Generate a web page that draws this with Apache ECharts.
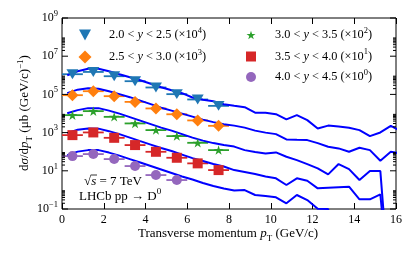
<!DOCTYPE html>
<html><head><meta charset="utf-8">
<script src="https://cdn.jsdelivr.net/npm/echarts@6/dist/echarts.min.js"></script>
<style>html,body{margin:0;padding:0;background:#fff}#c{width:416px;height:257px}</style>
</head><body><div id="c"></div>
<script>
// ---- data ----
const binCenters = [0.5, 1.5, 2.5, 3.5, 4.5, 5.5, 6.5, 7.5];
const binHalfWidth = 0.5;
const rapLow  = ['2.0', '2.5', '3.0', '3.5', '4.0'];
const rapHigh = ['2.5', '3.0', '3.5', '4.0', '4.5'];
const scaleExp = ['4', '3', '2', '1', '0'];
const y20_25 = [1.14e6, 1.50e6, 8.95e5, 4.91e5, 2.30e5, 1.03e5, 5.42e4, 2.51e4];
const y25_30 = [9.10e4, 1.47e5, 8.07e4, 4.06e4, 1.84e4, 9.10e3, 4.34e3, 2.26e3];
const y30_35 = [8.20e3, 1.33e4, 6.68e3, 3.02e3, 1.35e3, 6.55e2, 2.92e2, 1.21e2];
const y35_40 = [7.38e2, 1.02e3, 5.33e2, 2.22e2, 98.9, 48.1, 24.5, 10.9];
const y40_45 = [58.9, 75.0, 41.1, 17.7, 5.98, 3.28];

const theoryX = [0.25,0.75,1.25,1.75,2.25,2.75,3.25,3.75,4.25,4.75,5.25,5.75,6.25,6.75,7.25,7.75,
  8.25,8.75,9.25,9.75,10.25,10.75,11.25,11.75,12.25,12.75,13.25,13.75,14.25,14.75,15.25,15.75,16.25];
const th20_25 = [1.01e6,1.64e6,2.21e6,2.21e6,1.64e6,1.14e6,7.94e5,5.54e5,3.63e5,2.38e5,1.66e5,1.16e5,
  6.90e4,5.30e4,4.42e4,3.08e4,2.57e4,2.15e4,1.11e4,1.08e4,9.25e3,4.89e3,8.20e3,4.49e3,1.65e3,2.32e3,
  2.06e3,1.78e3,1.35e3,6.55e2,1.02e3,2.26e3,1.19e3];
const th25_30 = [1.16e5,1.77e5,2.11e5,1.99e5,1.47e5,1.03e5,7.16e4,4.70e4,3.08e4,2.02e4,1.41e4,9.82e3,
  6.84e3,4.77e3,3.53e3,2.77e3,2.32e3,1.82e3,1.27e3,9.98e2,8.33e2,4.40e2,4.20e2,4.05e2,2.82e2,1.81e2,
  1.49e2,9.89e1,1.60e2,1.21e2,3.35e1,9.89e1,7.96e1];
const th30_35 = [1.04e4,1.50e4,1.91e4,1.91e4,1.41e4,9.82e3,6.44e3,4.23e3,2.77e3,1.82e3,1.27e3,8.33e2,
  5.47e2,3.81e2,2.82e2,2.22e2,1.85e2,1.21e2,9.55e1,7.96e1,9.20e1,5.42e1,3.64e1,2.25e1,1.34e1,6.52,
  2.25e1,1.23e1,3.28,9.68,9.68,1e-6];
const th35_40 = [9.40e2,1.43e3,1.65e3,1.61e3,1.19e3,8.33e2,5.47e2,3.59e2,2.36e2,1.55e2,1.08e2,7.06e1,
  4.63e1,3.23e1,2.25e1,1.67e1,1.09e1,8.59,6.76,5.00,4.03,1.80,4.03,3.01,1.21,1.30,1.38,1.47,0.321,
  0.321,0.587,1e-6];
const th40_45 = [66.5,101,121,121,89.8,62.5,41.1,27.0,17.7,11.6,7.62,5.00,3.48,2.29,1.59,1.18,0.927,
  0.984,0.540,0.478,0.409,0.199,0.540,0.295,0.102,0.100,1e-6];

const xTicks = [0, 2, 4, 6, 8, 10, 12, 14, 16];
const yMajorTicks = [1e-1, 1e1, 1e3, 1e5, 1e7, 1e9];
const yMajorExp = ['\u22121', '1', '3', '5', '7', '9'];
const yMinorDecades = [1e-1, 1e1, 1e3, 1e5, 1e7];
const yMinorSubs = [2, 3, 4, 5, 6, 7, 8, 9];

// ---- styling ----
const FONT = '"Liberation Serif","DejaVu Serif",serif';
const colors = ['#1f77b4', '#ff7f0e', '#2ca02c', '#d62728', '#9467bd'];
const STAR = 'path://M50,0L61.2,34.5L97.6,34.5L68.2,55.9L79.4,90.5L50,69.1L20.6,90.5L31.8,55.9L2.4,34.5L38.8,34.5Z';
const TRI_DOWN = 'path://M0,0L10,0L5,9Z';
const symbols = [TRI_DOWN, 'diamond', STAR, 'rect', 'circle'];
const symSizes = [[12, 11], 12, 10, 10, 10];
const legendIcon = [12, 13, 9, 10, 10];
const legendCenter = [[85, 35], [85, 57], [251, 35], [251, 56.5], [251, 77]];
const legendTextX = [109, 109, 275, 275, 275];
const dataSets = [y20_25, y25_30, y30_35, y35_40, y40_45];
const theory = [th20_25, th25_30, th30_35, th35_40, th40_45];
const names = rapLow.map((lo, i) => lo + ' < y < ' + rapHigh[i] + ' (\u00d710^' + scaleExp[i] + ')');

const FS = 12.3;
const richBase = {
  n: {fontFamily: FONT, fontSize: FS, lineHeight: 18, verticalAlign: 'middle', color: '#000'},
  i: {fontFamily: FONT, fontSize: FS, lineHeight: 18, verticalAlign: 'middle', fontStyle: 'italic', color: '#000'},
  s: {fontFamily: FONT, fontSize: 8.5, lineHeight: 10, verticalAlign: 'top', color: '#000'},
  b: {fontFamily: FONT, fontSize: 8.5, lineHeight: 12, verticalAlign: 'bottom', color: '#000'}
};
const richTitle = {
  n: Object.assign({}, richBase.n, {fontSize: 13}),
  i: Object.assign({}, richBase.i, {fontSize: 13}),
  s: Object.assign({}, richBase.s, {fontSize: 9}),
  b: Object.assign({}, richBase.b, {fontSize: 9})
};

const series = [];
theory.forEach(arr => {
  series.push({
    type: 'line', data: arr.map((v, i) => [theoryX[i], v]), showSymbol: false, symbol: 'none',
    lineStyle: {color: '#0000ff', width: 2}, z: 3, silent: true, clip: true
  });
});
dataSets.forEach((vals, k) => {
  const pts = vals.map((v, i) => [binCenters[i], v]);
  series.push({
    type: 'custom', data: pts, encode: {x: 0, y: 1}, z: 2, silent: true,
    renderItem: (p, api) => {
      const x = api.value(0), y = api.value(1);
      const a = api.coord([x - binHalfWidth, y]), b = api.coord([x + binHalfWidth, y]);
      return {type: 'line', shape: {x1: a[0], y1: a[1], x2: b[0], y2: b[1]},
        style: {stroke: colors[k], lineWidth: 1.8}};
    }
  });
  series.push({
    type: 'scatter', name: names[k], data: pts, symbol: symbols[k], symbolSize: symSizes[k],
    symbolKeepAspect: true, itemStyle: {color: colors[k], opacity: 1}, z: 4
  });
});

// y ticks drawn through the log axis scale
const tickData = [];
yMajorTicks.forEach((v, i) => tickData.push([0, v, 1, i]));
yMinorDecades.forEach(d => yMinorSubs.forEach(s => tickData.push([0, s * d, 0, -1])));
series.push({
  type: 'custom', data: tickData, encode: {x: 0, y: 1}, z: 10, silent: true, clip: false,
  renderItem: (p, api) => {
    const v = api.value(1), major = api.value(2), idx = api.value(3);
    const l = api.coord([0, v]), r = api.coord([16, v]);
    const len = major ? 6 : 3;
    const ch = [
      {type: 'line', shape: {x1: l[0], y1: l[1], x2: l[0] + len, y2: l[1]}, style: {stroke: '#000', lineWidth: 1}},
      {type: 'line', shape: {x1: r[0] - len, y1: r[1], x2: r[0], y2: r[1]}, style: {stroke: '#000', lineWidth: 1}}
    ];
    if (major) {
      ch.push({type: 'text', x: l[0] - 4, y: l[1], style: {
        text: '{t|10}{e|' + yMajorExp[idx] + '}', align: 'right', verticalAlign: 'middle',
        rich: {t: {fontFamily: FONT, fontSize: 12, lineHeight: 18, verticalAlign: 'middle', fill: '#000'},
               e: {fontFamily: FONT, fontSize: 8.5, lineHeight: 9, verticalAlign: 'top', fill: '#000'}}}});
    }
    return {type: 'group', children: ch};
  }
});

const legends = names.map((nm, k) => {
  const s = legendIcon[k];
  const left = legendCenter[k][0] - s / 2;
  const gap = legendTextX[k] - (left + s + 5);
  const rich = Object.assign({g: {width: gap, lineHeight: 18}}, richBase);
  return {
    data: [nm], left: left, top: legendCenter[k][1] - 9, padding: 0, orient: 'vertical',
    itemWidth: s, itemHeight: s, selectedMode: false,
    formatter: () => '{g|}{n|' + rapLow[k] + ' < }{i|y}{n| < ' + rapHigh[k] + ' (\u00d710}{s|' + scaleExp[k] + '}{n|)}',
    textStyle: {rich: rich, color: '#000'}
  };
});

const axisCommon = {
  type: 'value', min: 0, max: 16, interval: 2, splitLine: {show: false}, axisLine: {show: false},
  axisTick: {show: true, inside: true, length: 6, lineStyle: {color: '#000', width: 1}}
};

const option = {
  animation: false,
  backgroundColor: '#fff',
  grid: {left: 62, top: 18, width: 334, height: 191, show: true, borderColor: '#000', borderWidth: 1,
    backgroundColor: 'transparent', containLabel: false, outerBoundsMode: 'none'},
  xAxis: [
    Object.assign({}, axisCommon, {position: 'bottom',
      axisLabel: {show: true, margin: 5, fontFamily: FONT, fontSize: 12, color: '#000',
        formatter: v => xTicks.indexOf(v) >= 0 ? String(v) : ''}}),
    Object.assign({}, axisCommon, {position: 'top', axisLabel: {show: false}})
  ],
  yAxis: {type: 'log', logBase: 10, min: 0.1, max: 1e9, axisLine: {show: false}, axisTick: {show: false},
    axisLabel: {show: false}, splitLine: {show: false}, minorTick: {show: false}},
  legend: legends,
  series: series,
  graphic: [
    {type: 'text', x: 228, y: 234, style: {text: '{n|Transverse momentum }{i|p}{b|T}{n| (GeV/c)}',
      rich: richTitle, align: 'center', verticalAlign: 'middle'}},
    {type: 'text', x: 25, y: 113, rotation: Math.PI / 2, style: {
      text: '{n|d}{i|\u03c3}{n|/d}{i|p}{b|T}{n| (\u03bcb (GeV/c)}{s|\u22121}{n|)}',
      rich: richTitle, align: 'center', verticalAlign: 'middle'}},
    {type: 'text', x: 84, y: 181.5, style: {text: '{n|\u221a}{i|s}{n| = 7 TeV}', rich: richTitle,
      align: 'left', verticalAlign: 'middle'}},
    {type: 'line', shape: {x1: 91, y1: 175, x2: 97, y2: 175}, style: {stroke: '#000', lineWidth: 0.8}},
    {type: 'text', x: 79, y: 196.5, style: {text: '{n|LHCb pp \u2192 D}{s|0}', rich: richTitle,
      align: 'left', verticalAlign: 'middle'}}
  ]
};
const chart = echarts.init(document.getElementById('c'));
chart.setOption(option);
</script></body></html>
